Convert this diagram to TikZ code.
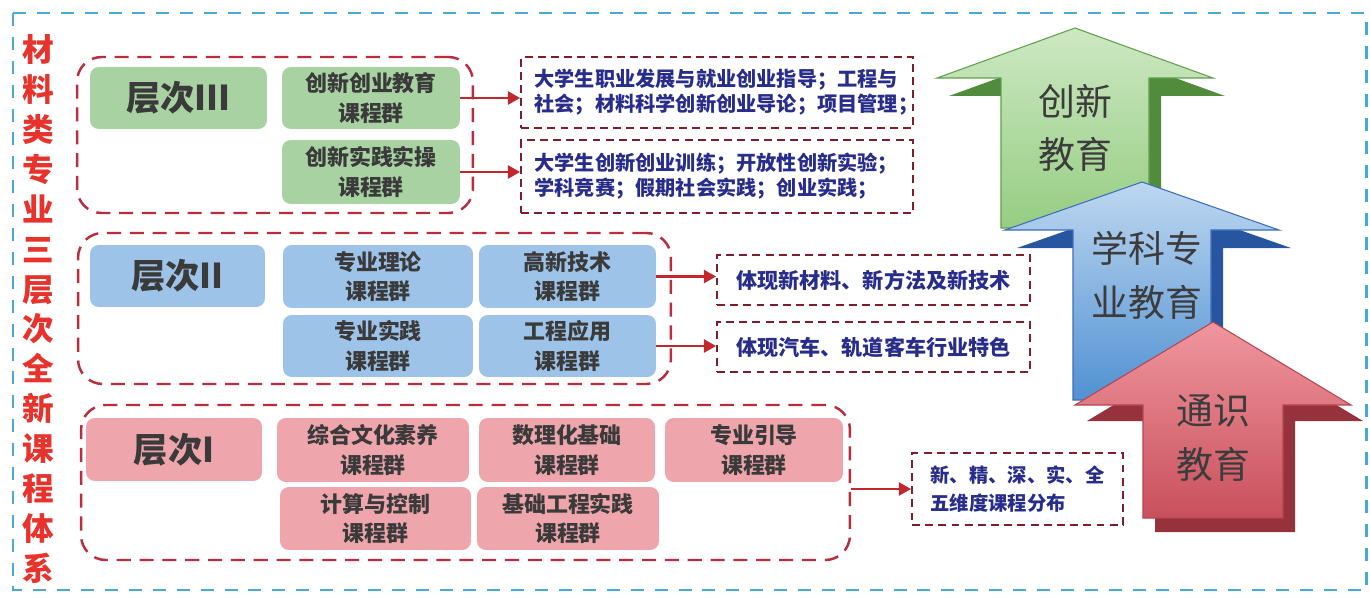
\documentclass[tikz,border=0pt]{standalone}
\usepackage{fontspec}
\setmainfont{Noto Sans CJK SC}
\usetikzlibrary{arrows.meta}
\definecolor{frameblue}{RGB}{74,168,216}
\definecolor{grpred}{RGB}{185,45,60}
\definecolor{tbred}{RGB}{125,30,45}
\definecolor{arrred}{RGB}{192,40,45}
\definecolor{navy}{RGB}{40,45,140}
\definecolor{titlered}{RGB}{232,50,44}
\definecolor{boxtext}{RGB}{58,58,58}
\definecolor{boxgreen}{RGB}{168,210,162}
\definecolor{boxblue}{RGB}{157,195,232}
\definecolor{boxpink}{RGB}{238,166,172}
\definecolor{gtop}{RGB}{205,232,195}
\definecolor{gbot}{RGB}{150,205,130}
\definecolor{gdark}{RGB}{80,140,60}
\definecolor{gline}{RGB}{95,160,75}
\definecolor{btop}{RGB}{190,215,240}
\definecolor{bbot}{RGB}{80,145,210}
\definecolor{bdark}{RGB}{40,85,160}
\definecolor{bline}{RGB}{60,110,185}
\definecolor{rtop}{RGB}{240,150,158}
\definecolor{rbot}{RGB}{200,80,92}
\definecolor{rdark}{RGB}{150,50,60}
\definecolor{rline}{RGB}{180,70,80}
\definecolor{arrowtext}{RGB}{60,60,60}
\begin{document}
\begin{tikzpicture}[x=0.02cm,y=-0.02cm,
  grp/.style={draw=grpred, line width=1.4pt, dash pattern=on 8pt off 5pt, rounded corners=14pt, inner sep=0pt},
  cbox/.style={rounded corners=5pt, inner sep=0pt, font=\bfseries\fontsize{12.5}{17}\selectfont, text=boxtext, align=center},
  lvl/.style={cbox, font=\bfseries\fontsize{19.5}{22}\selectfont},
  tbox/.style={draw=tbred, line width=1.1pt, dash pattern=on 4.5pt off 3pt, inner sep=0pt},
  ttext/.style={font=\bfseries\fontsize{11.5}{14.2}\selectfont, text=navy, align=left, inner sep=0pt},
  conn/.style={draw=arrred, line width=1.4pt, -{Triangle[length=7pt,width=7.5pt]}},
  bigtext/.style={font=\fontsize{21}{30.6}\selectfont, text=arrowtext, align=center, inner sep=0pt}
]
\useasboundingbox (0,0) rectangle (1370,598);
\fill[white] (0,0) rectangle (1370,598);
% outer frame
\draw[frameblue, line width=1.7pt, dash pattern=on 7.4pt off 6.2pt] (13,13) rectangle (1366,590);
% title
\node[font=\bfseries\fontsize{18}{22.7}\selectfont, text=titlered, align=center, inner sep=0pt] (title) at (38,309)
  {材\\料\\类\\专\\业\\三\\层\\次\\全\\新\\课\\程\\体\\系};

% ---------- big 3D arrows ----------
\begin{scope}[shift={(12,18)}]
\fill[gdark] (1075,28) -- (937,78) -- (1001,78) -- (1001,210) -- (1149,210) -- (1149,78) -- (1213,78) -- cycle;
\end{scope}
\shade[top color=gtop, bottom color=gbot, draw=gline, line width=0.6pt]
  (1075,28) -- (937,78) -- (1001,78) -- (1001,228) -- (1149,228) -- (1149,78) -- (1213,78) -- cycle;
\begin{scope}[shift={(12,18)}]
\fill[bdark] (1142,182) -- (1005,230) -- (1073,230) -- (1073,382) -- (1211,382) -- (1211,230) -- (1279,230) -- cycle;
\end{scope}
\shade[top color=btop, bottom color=bbot, draw=bline, line width=0.6pt]
  (1142,182) -- (1005,230) -- (1073,230) -- (1073,400) -- (1211,400) -- (1211,230) -- (1279,230) -- cycle;
\begin{scope}[shift={(12,16)}]
\fill[rdark] (1213,322) -- (1075,405) -- (1143,405) -- (1143,516) -- (1283,516) -- (1283,405) -- (1351,405) -- cycle;
\end{scope}
\shade[top color=rtop, bottom color=rbot, draw=rline, line width=0.6pt]
  (1213,322) -- (1075,405) -- (1143,405) -- (1143,518) -- (1283,518) -- (1283,405) -- (1351,405) -- cycle;
\node[bigtext] (a3) at (1075,128) {创新\\教育};
\node[bigtext] (a2) at (1147,275) {学科专\\业教育};
\node[bigtext] (a1) at (1213,438) {通识\\教育};

% ---------- Level III ----------
\node[grp, minimum width=7.92cm, minimum height=3.12cm] (g3) at (275,135) {};
\node[lvl, fill=boxgreen, minimum width=3.54cm, minimum height=1.24cm] (L3) at (178.5,98) {层次III};
\node[cbox, fill=boxgreen, minimum width=3.56cm, minimum height=1.24cm] (c3a) at (371,98) {创新创业教育\\课程群};
\node[cbox, fill=boxgreen, minimum width=3.56cm, minimum height=1.28cm] (c3b) at (371,172) {创新实践实操\\课程群};
\node[tbox, minimum width=7.84cm, minimum height=1.42cm] (t3a) at (717,92.5) {};
\node[tbox, minimum width=7.84cm, minimum height=1.46cm] (t3b) at (717,176.5) {};
\node[ttext, anchor=west] (t3a-txt) at ([xshift=0.28cm]t3a.west) {大学生职业发展与就业创业指导；工程与\\社会；材料科学创新创业导论；项目管理；};
\node[ttext, anchor=west] (t3b-txt) at ([xshift=0.28cm]t3b.west) {大学生创新创业训练；开放性创新实验；\\学科竞赛；假期社会实践；创业实践；};

% ---------- Level II ----------
\node[grp, minimum width=11.86cm, minimum height=3.02cm] (g2) at (374.5,308.5) {};
\node[lvl, fill=boxblue, minimum width=3.5cm, minimum height=1.24cm] (L2) at (177.5,276) {层次II};
\node[cbox, fill=boxblue, minimum width=3.8cm, minimum height=1.26cm] (c2a) at (378,276.5) {专业理论\\课程群};
\node[cbox, fill=boxblue, minimum width=3.54cm, minimum height=1.26cm] (c2b) at (567.5,276.5) {高新技术\\课程群};
\node[cbox, fill=boxblue, minimum width=3.8cm, minimum height=1.24cm] (c2c) at (378,346) {专业实践\\课程群};
\node[cbox, fill=boxblue, minimum width=3.54cm, minimum height=1.24cm] (c2d) at (567.5,346) {工程应用\\课程群};
\node[tbox, minimum width=6.26cm, minimum height=1.0cm, font=\bfseries\fontsize{12}{14}\selectfont, text=navy] (t2a) at (873.5,280) {体现新材料、新方法及新技术};
\node[tbox, minimum width=6.26cm, minimum height=1.0cm, font=\bfseries\fontsize{12}{14}\selectfont, text=navy] (t2b) at (873.5,347) {体现汽车、轨道客车行业特色};

% ---------- Level I ----------
\node[grp, minimum width=15.38cm, minimum height=3.1cm] (g1) at (465.5,482.5) {};
\node[lvl, fill=boxpink, minimum width=3.52cm, minimum height=1.26cm] (L1) at (174,449.5) {层次I};
\node[cbox, fill=boxpink, minimum width=3.84cm, minimum height=1.28cm] (c1a) at (373,450) {综合文化素养\\课程群};
\node[cbox, fill=boxpink, minimum width=3.52cm, minimum height=1.28cm] (c1b) at (567,450) {数理化基础\\课程群};
\node[cbox, fill=boxpink, minimum width=3.56cm, minimum height=1.28cm] (c1c) at (754,450) {专业引导\\课程群};
\node[cbox, fill=boxpink, minimum width=3.82cm, minimum height=1.26cm] (c1d) at (375.5,518.5) {计算与控制\\课程群};
\node[cbox, fill=boxpink, minimum width=3.64cm, minimum height=1.26cm] (c1e) at (568,518.5) {基础工程实践\\课程群};
\node[tbox, minimum width=4.22cm, minimum height=1.44cm, font=\bfseries\fontsize{11}{15.9}\selectfont, text=navy, align=left] (t1) at (1017.5,489) {新、精、深、实、全\\五维度课程分布};

% ---------- connectors ----------
\draw[conn] (c3a.east) -- (c3a.east -| t3a.west);
\draw[conn] (c3b.east) -- (c3b.east -| t3b.west);
\draw[conn] (c2b.east) -- (c2b.east -| t2a.west);
\draw[conn] (c2d.east) -- (c2d.east -| t2b.west);
\draw[conn] (t1.west -| g1.east) -- (t1.west);
\end{tikzpicture}
\end{document}
